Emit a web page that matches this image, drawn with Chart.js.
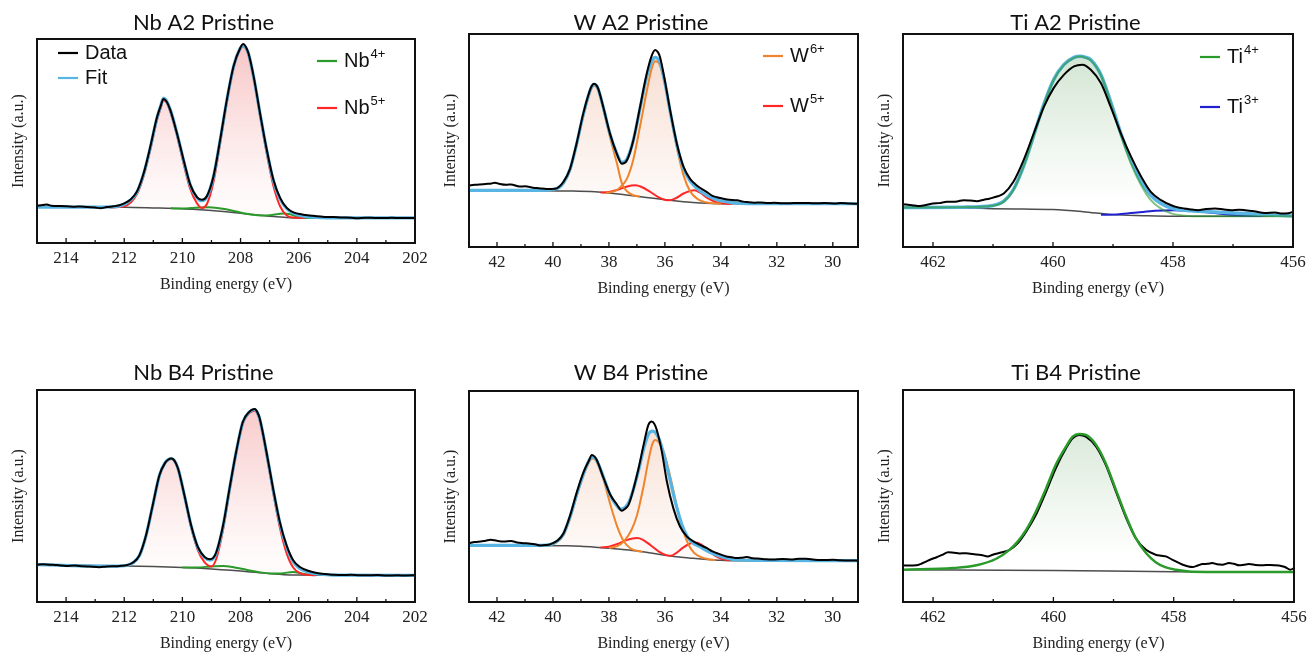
<!DOCTYPE html>
<html>
<head>
<meta charset="utf-8">
<script src="https://cdn.jsdelivr.net/npm/chart.js@4.4.0/dist/chart.umd.min.js"></script>
<style>
  body { margin: 0; background: #fff; width: 1311px; height: 653px; position: relative; overflow: hidden; }
  canvas { position: absolute; }
</style>
</head>
<body>
<script>
//1) DATA (binding energy eV, normalised intensity)//
const nbAxis = [202, 215];
const wAxis = [29.1, 43];
const tiAxis = [456, 462.5];

// Nb A2
const nbA2Data = [[215.0,0.183],[214.8,0.186],[214.66,0.189],[214.5,0.182],[214.2,0.181],[213.97,0.180],[213.7,0.178],[213.5,0.179],[213.28,0.176],[213.0,0.174],[212.82,0.170],[212.6,0.176],[212.37,0.180],[212.2,0.184],[212.02,0.193],[211.79,0.212],[211.56,0.253],[211.33,0.343],[211.1,0.474],[210.88,0.613],[210.75,0.67],[210.65,0.706],[210.55,0.695],[210.42,0.654],[210.19,0.539],[209.96,0.408],[209.73,0.286],[209.5,0.225],[209.33,0.212],[209.16,0.229],[208.93,0.327],[208.7,0.507],[208.47,0.703],[208.24,0.866],[208.01,0.956],[207.9,0.975],[207.82,0.962],[207.73,0.931],[207.55,0.817],[207.33,0.637],[207.1,0.458],[206.87,0.31],[206.64,0.221],[206.41,0.172],[206.18,0.150],[205.84,0.139],[205.6,0.135],[205.38,0.131],[205.1,0.128],[204.81,0.127],[204.5,0.125],[204.2,0.124],[204.0,0.121],[203.7,0.124],[203.4,0.123],[203.09,0.122],[202.8,0.124],[202.5,0.122],[202.2,0.123],[202.0,0.123]];
const nbA2Fit = [[215,0.176],[213,0.176],[212.3,0.178],[212.0,0.19],[211.79,0.21],[211.56,0.25],[211.33,0.34],[211.1,0.47],[210.88,0.61],[210.75,0.67],[210.65,0.71],[210.55,0.698],[210.42,0.655],[210.19,0.54],[209.96,0.405],[209.73,0.285],[209.5,0.222],[209.33,0.207],[209.16,0.225],[208.93,0.325],[208.7,0.505],[208.47,0.70],[208.24,0.865],[208.01,0.955],[207.9,0.968],[207.82,0.958],[207.73,0.93],[207.55,0.815],[207.33,0.635],[207.1,0.455],[206.87,0.305],[206.64,0.215],[206.41,0.168],[206.18,0.145],[205.84,0.132],[205.4,0.126],[204.5,0.123],[202,0.123]];
const nbA2Nb5 = [[212.5,0.174],[212.0,0.18],[211.56,0.24],[211.33,0.33],[211.1,0.46],[210.88,0.60],[210.75,0.66],[210.65,0.70],[210.55,0.69],[210.42,0.645],[210.19,0.53],[209.96,0.39],[209.73,0.265],[209.5,0.195],[209.33,0.172],[209.16,0.19],[208.93,0.30],[208.7,0.49],[208.47,0.69],[208.24,0.86],[208.01,0.95],[207.9,0.965],[207.82,0.955],[207.73,0.925],[207.55,0.81],[207.33,0.625],[207.1,0.44],[206.87,0.28],[206.64,0.18],[206.41,0.135],[206.18,0.125],[205.8,0.123]];
const nbA2Nb4 = [[210.4,0.170],[210.0,0.169],[209.7,0.171],[209.4,0.174],[209.1,0.175],[208.8,0.172],[208.5,0.165],[208.2,0.156],[207.9,0.146],[207.6,0.139],[207.3,0.135],[207.0,0.136],[206.7,0.142],[206.5,0.145],[206.3,0.141],[206.1,0.132],[205.8,0.124],[205.5,0.123]];
const nbA2Base = [[215,0.176],[212,0.175],[211,0.172],[210,0.168],[209.5,0.164],[209,0.159],[208.5,0.153],[208,0.146],[207.5,0.138],[207,0.131],[206.5,0.126],[206,0.123],[202,0.123]];

// W A2
const wA2Data = [[43.0,0.289],[42.8,0.292],[42.62,0.294],[42.4,0.296],[42.2,0.298],[42.08,0.302],[41.9,0.296],[41.66,0.292],[41.5,0.294],[41.19,0.284],[41.0,0.285],[40.71,0.278],[40.5,0.276],[40.23,0.272],[39.93,0.273],[39.78,0.283],[39.63,0.305],[39.39,0.367],[39.16,0.484],[38.92,0.625],[38.74,0.711],[38.62,0.755],[38.53,0.766],[38.45,0.76],[38.38,0.742],[38.2,0.656],[37.96,0.531],[37.72,0.438],[37.54,0.391],[37.36,0.406],[37.13,0.5],[36.89,0.656],[36.65,0.813],[36.47,0.898],[36.35,0.925],[36.25,0.915],[36.17,0.89],[35.99,0.773],[35.81,0.64],[35.57,0.484],[35.33,0.375],[35.1,0.32],[34.86,0.289],[34.5,0.258],[34.3,0.24],[34.14,0.234],[33.95,0.228],[33.78,0.223],[33.42,0.219],[33.2,0.213],[33.07,0.211],[32.8,0.208],[32.59,0.209],[32.3,0.206],[32.11,0.208],[31.8,0.205],[31.39,0.206],[31.0,0.207],[30.68,0.205],[30.3,0.206],[29.9,0.204],[29.72,0.206],[29.4,0.204],[29.1,0.203]];
const wA2Fit = [[43.0,0.266],[40.5,0.266],[40.0,0.27],[39.78,0.28],[39.63,0.30],[39.39,0.365],[39.16,0.48],[38.92,0.62],[38.74,0.708],[38.62,0.752],[38.53,0.764],[38.45,0.758],[38.38,0.74],[38.2,0.655],[37.96,0.53],[37.72,0.44],[37.54,0.398],[37.36,0.412],[37.13,0.5],[36.89,0.65],[36.65,0.80],[36.47,0.872],[36.35,0.89],[36.25,0.884],[36.17,0.865],[35.99,0.765],[35.81,0.635],[35.57,0.48],[35.33,0.368],[35.1,0.31],[34.86,0.275],[34.5,0.242],[34.14,0.222],[33.78,0.212],[33.4,0.206],[32.5,0.203],[29.1,0.203]];
const wA2W6a = [[40.2,0.266],[39.9,0.272],[39.63,0.298],[39.39,0.36],[39.16,0.478],[38.92,0.615],[38.74,0.70],[38.62,0.745],[38.53,0.757],[38.45,0.752],[38.38,0.735],[38.2,0.648],[37.96,0.515],[37.72,0.395],[37.54,0.30],[37.36,0.262],[37.13,0.243],[36.9,0.236]];
const wA2W6b = [[38.1,0.254],[37.8,0.262],[37.6,0.28],[37.36,0.32],[37.13,0.41],[36.89,0.565],[36.65,0.73],[36.47,0.838],[36.35,0.872],[36.25,0.868],[36.17,0.85],[35.99,0.762],[35.81,0.632],[35.57,0.465],[35.33,0.335],[35.1,0.262],[34.86,0.228],[34.6,0.212],[34.3,0.206],[34.0,0.203]];
const wA2W5 = [[38.3,0.256],[38.0,0.258],[37.7,0.268],[37.4,0.282],[37.2,0.289],[37.05,0.29],[36.85,0.283],[36.5,0.257],[36.2,0.232],[36.0,0.222],[35.85,0.219],[35.6,0.23],[35.35,0.25],[35.1,0.263],[34.95,0.266],[34.75,0.256],[34.5,0.232],[34.2,0.212],[33.9,0.204],[33.6,0.203]];
const wA2Base = [[43,0.266],[39.3,0.2625],[38.5,0.259],[38.0,0.254],[37.5,0.247],[37.0,0.238],[36.5,0.230],[36.0,0.222],[35.5,0.215],[35.0,0.209],[34.5,0.205],[34.0,0.203],[29.1,0.203]];

// Ti A2
const tiA2Data = [[462.5,0.201],[462.35,0.196],[462.22,0.192],[462.1,0.198],[462.0,0.204],[461.9,0.206],[461.77,0.212],[461.6,0.214],[461.49,0.22],[461.38,0.218],[461.27,0.215],[461.15,0.222],[461.05,0.228],[460.92,0.238],[460.82,0.251],[460.66,0.306],[460.49,0.408],[460.32,0.534],[460.15,0.659],[459.99,0.746],[459.82,0.808],[459.65,0.848],[459.51,0.856],[459.37,0.832],[459.2,0.769],[459.04,0.659],[458.87,0.534],[458.7,0.424],[458.53,0.33],[458.37,0.259],[458.2,0.22],[458.03,0.196],[457.92,0.186],[457.81,0.181],[457.7,0.176],[457.58,0.173],[457.45,0.178],[457.3,0.181],[457.15,0.176],[457.03,0.173],[456.9,0.175],[456.8,0.173],[456.65,0.168],[456.47,0.16],[456.3,0.162],[456.19,0.157],[456.08,0.158],[456.0,0.165]];
const tiA2Fit = [[462.5,0.185],[461.5,0.187],[461.0,0.195],[460.82,0.215],[460.66,0.27],[460.49,0.38],[460.32,0.525],[460.15,0.672],[459.99,0.785],[459.82,0.856],[459.65,0.89],[459.55,0.896],[459.45,0.89],[459.37,0.879],[459.2,0.808],[459.04,0.683],[458.87,0.534],[458.7,0.408],[458.53,0.306],[458.37,0.243],[458.2,0.204],[458.0,0.18],[457.7,0.17],[457.4,0.166],[457.0,0.16],[456.5,0.152],[456.0,0.146]];
const tiA2Ti4 = [[462.5,0.185],[461.5,0.187],[461.0,0.194],[460.82,0.213],[460.66,0.268],[460.49,0.378],[460.32,0.522],[460.15,0.67],[459.99,0.783],[459.82,0.854],[459.65,0.888],[459.55,0.894],[459.45,0.888],[459.37,0.876],[459.2,0.805],[459.04,0.678],[458.87,0.525],[458.7,0.39],[458.53,0.29],[458.37,0.22],[458.2,0.18],[458.03,0.158],[457.8,0.147],[457.5,0.144],[456,0.144]];
const tiA2Ti3 = [[459.2,0.151],[458.9,0.154],[458.6,0.162],[458.3,0.17],[458.0,0.173],[457.7,0.17],[457.4,0.162],[457.1,0.153],[456.8,0.147],[456.5,0.145]];
const tiA2Base = [[462.5,0.185],[461.5,0.183],[461.0,0.18],[460.5,0.178],[460.0,0.176],[459.5,0.166],[459.0,0.152],[458.5,0.147],[458.0,0.144],[456.0,0.144]];

// Nb B4
const nbB4Data = [[215.0,0.176],[214.8,0.178],[214.58,0.176],[214.3,0.174],[214.0,0.17],[213.7,0.172],[213.43,0.169],[213.2,0.167],[212.85,0.164],[212.6,0.168],[212.28,0.169],[212.1,0.171],[211.93,0.173],[211.7,0.186],[211.48,0.22],[211.25,0.315],[211.02,0.457],[210.79,0.598],[210.6,0.655],[210.48,0.672],[210.38,0.677],[210.28,0.668],[210.15,0.63],[209.93,0.504],[209.7,0.362],[209.47,0.26],[209.24,0.213],[209.06,0.202],[208.95,0.207],[208.83,0.236],[208.6,0.362],[208.38,0.535],[208.15,0.709],[207.92,0.85],[207.69,0.898],[207.6,0.907],[207.51,0.91],[207.42,0.895],[207.34,0.866],[207.11,0.709],[206.88,0.535],[206.65,0.378],[206.42,0.268],[206.19,0.197],[205.96,0.165],[205.62,0.145],[205.28,0.134],[205.0,0.131],[204.82,0.129],[204.5,0.127],[204.2,0.128],[203.9,0.126],[203.67,0.126],[203.3,0.127],[203.0,0.125],[202.6,0.126],[202.3,0.125],[202.0,0.126]];
const nbB4Fit = [[215,0.176],[212.3,0.169],[211.93,0.172],[211.7,0.185],[211.48,0.218],[211.25,0.313],[211.02,0.455],[210.79,0.597],[210.6,0.656],[210.48,0.672],[210.38,0.677],[210.28,0.668],[210.15,0.63],[209.93,0.503],[209.7,0.36],[209.47,0.258],[209.24,0.21],[209.06,0.198],[208.95,0.203],[208.83,0.232],[208.6,0.358],[208.38,0.532],[208.15,0.707],[207.92,0.848],[207.69,0.897],[207.6,0.905],[207.51,0.907],[207.42,0.893],[207.34,0.864],[207.11,0.707],[206.88,0.532],[206.65,0.374],[206.42,0.262],[206.19,0.19],[205.96,0.158],[205.62,0.139],[205.28,0.131],[204.8,0.127],[202,0.126]];
const nbB4Nb5 = [[212.3,0.169],[211.93,0.172],[211.7,0.184],[211.48,0.217],[211.25,0.312],[211.02,0.454],[210.79,0.595],[210.6,0.654],[210.48,0.67],[210.38,0.674],[210.28,0.665],[210.15,0.626],[209.93,0.498],[209.7,0.352],[209.47,0.245],[209.24,0.188],[209.0,0.168],[208.83,0.205],[208.6,0.342],[208.38,0.522],[208.15,0.702],[207.92,0.842],[207.69,0.892],[207.6,0.9],[207.51,0.902],[207.42,0.888],[207.34,0.858],[207.11,0.698],[206.88,0.518],[206.65,0.352],[206.42,0.232],[206.19,0.163],[205.96,0.136],[205.7,0.128],[205.4,0.126]];
const nbB4Nb4 = [[210.0,0.163],[209.5,0.163],[209.0,0.168],[208.6,0.17],[208.2,0.163],[207.8,0.152],[207.4,0.142],[207.0,0.135],[206.6,0.135],[206.2,0.142],[205.9,0.135],[205.6,0.127]];
const nbB4Base = [[215,0.176],[212,0.17],[211,0.167],[210,0.163],[209.5,0.16],[209,0.156],[208.5,0.151],[208,0.146],[207.5,0.14],[207,0.134],[206.5,0.129],[206,0.127],[205,0.126],[202,0.126]];

// W B4
const wB4Data = [[43.0,0.279],[42.8,0.284],[42.58,0.287],[42.4,0.29],[42.23,0.295],[42.0,0.29],[41.75,0.287],[41.5,0.289],[41.28,0.282],[41.05,0.279],[40.8,0.276],[40.6,0.272],[40.45,0.268],[40.25,0.27],[40.09,0.274],[39.85,0.29],[39.62,0.326],[39.38,0.413],[39.14,0.524],[38.9,0.618],[38.72,0.669],[38.61,0.697],[38.52,0.69],[38.43,0.672],[38.19,0.587],[37.95,0.508],[37.71,0.461],[37.54,0.432],[37.42,0.442],[37.3,0.46],[37.18,0.508],[36.94,0.634],[36.76,0.745],[36.59,0.839],[36.47,0.855],[36.38,0.845],[36.29,0.815],[36.11,0.713],[35.93,0.571],[35.7,0.445],[35.46,0.358],[35.22,0.311],[34.98,0.287],[34.75,0.271],[34.51,0.256],[34.3,0.24],[34.15,0.232],[33.95,0.222],[33.8,0.216],[33.6,0.212],[33.44,0.208],[33.25,0.21],[33.08,0.213],[32.85,0.207],[32.6,0.205],[32.4,0.203],[32.13,0.202],[31.8,0.204],[31.42,0.202],[31.2,0.205],[30.95,0.205],[30.65,0.2],[30.35,0.199],[30.0,0.2],[29.76,0.198],[29.45,0.197],[29.1,0.196]];
const wB4Fit = [[43.0,0.268],[40.4,0.268],[40.1,0.272],[39.85,0.288],[39.62,0.324],[39.38,0.408],[39.14,0.515],[38.9,0.61],[38.72,0.668],[38.61,0.688],[38.5,0.682],[38.43,0.67],[38.19,0.59],[37.95,0.505],[37.71,0.455],[37.6,0.44],[37.45,0.445],[37.3,0.47],[37.18,0.51],[36.94,0.625],[36.76,0.725],[36.59,0.795],[36.45,0.81],[36.35,0.805],[36.2,0.77],[36.0,0.68],[35.8,0.57],[35.6,0.46],[35.4,0.37],[35.2,0.31],[35.0,0.28],[34.75,0.262],[34.5,0.243],[34.2,0.225],[34.0,0.216],[33.7,0.205],[33.4,0.199],[32.5,0.197],[29.1,0.196]];
const wB4W6a = [[40.2,0.268],[39.9,0.28],[39.62,0.318],[39.38,0.4],[39.14,0.508],[38.9,0.605],[38.72,0.66],[38.6,0.68],[38.5,0.676],[38.43,0.662],[38.19,0.578],[37.95,0.462],[37.71,0.36],[37.48,0.29],[37.25,0.256],[37.0,0.243],[36.8,0.238]];
const wB4W6b = [[38.0,0.256],[37.7,0.265],[37.45,0.29],[37.2,0.34],[37.0,0.41],[36.76,0.55],[36.59,0.67],[36.45,0.748],[36.35,0.768],[36.25,0.762],[36.1,0.73],[35.93,0.66],[35.75,0.56],[35.55,0.44],[35.35,0.34],[35.15,0.27],[34.95,0.232],[34.7,0.212],[34.45,0.203],[34.2,0.199]];
const wB4W5 = [[38.3,0.258],[38.0,0.262],[37.7,0.275],[37.4,0.292],[37.15,0.301],[37.0,0.303],[36.8,0.296],[36.5,0.268],[36.2,0.238],[35.95,0.222],[35.8,0.219],[35.6,0.232],[35.35,0.258],[35.1,0.277],[34.9,0.282],[34.7,0.272],[34.45,0.245],[34.2,0.218],[33.95,0.203],[33.7,0.198]];
const wB4Base = [[43,0.268],[39.5,0.266],[39,0.264],[38.5,0.26],[38,0.255],[37.5,0.249],[37,0.242],[36.5,0.232],[36,0.222],[35.5,0.213],[35,0.207],[34.5,0.202],[34,0.198],[33.5,0.196],[29.1,0.196]];

// Ti B4
const tiB4Data = [[462.5,0.173],[462.4,0.172],[462.28,0.173],[462.2,0.18],[462.11,0.192],[462.0,0.205],[461.95,0.21],[461.85,0.222],[461.75,0.235],[461.65,0.232],[461.56,0.229],[461.45,0.23],[461.34,0.226],[461.2,0.222],[461.09,0.215],[461.02,0.222],[460.95,0.228],[460.85,0.235],[460.73,0.246],[460.59,0.278],[460.45,0.333],[460.29,0.411],[460.12,0.521],[459.96,0.631],[459.79,0.725],[459.68,0.772],[459.57,0.788],[459.46,0.78],[459.29,0.733],[459.13,0.647],[458.96,0.521],[458.79,0.396],[458.63,0.301],[458.46,0.246],[458.3,0.223],[458.2,0.218],[458.13,0.215],[458.02,0.199],[457.85,0.176],[457.69,0.165],[457.6,0.172],[457.52,0.179],[457.44,0.18],[457.36,0.184],[457.28,0.178],[457.19,0.176],[457.08,0.184],[457.0,0.18],[456.91,0.173],[456.83,0.176],[456.75,0.179],[456.64,0.175],[456.53,0.173],[456.4,0.175],[456.25,0.172],[456.15,0.165],[456.06,0.152],[456.0,0.16]];
const tiB4Ti4 = [[462.5,0.152],[461.67,0.16],[461.28,0.173],[460.95,0.204],[460.73,0.246],[460.59,0.286],[460.45,0.341],[460.29,0.427],[460.12,0.537],[459.96,0.647],[459.79,0.733],[459.68,0.78],[459.57,0.793],[459.46,0.788],[459.29,0.741],[459.13,0.655],[458.96,0.529],[458.79,0.403],[458.63,0.301],[458.46,0.231],[458.3,0.188],[458.13,0.163],[457.96,0.152],[457.75,0.144],[457.4,0.142],[456,0.141]];
const tiB4Base = [[462.5,0.152],[460,0.148],[458,0.143],[456,0.141]];

//2) COLOURS//
const cData = '#000000';
const cFit = '#58b4e2';
const cBase = '#4d4d4d';
const cRed = '#ff2626';
const cGreen = '#2a9a2a';
const cOrange = '#f0842c';
const cBlue = '#2020d0';

//3) HELPERS//
function fade(top, bottom) {
   return (context) => {
      const { ctx, chartArea, scales } = context.chart;
      if (!chartArea) return top;
      const g = ctx.createLinearGradient(0, chartArea.top, 0, scales.y.getPixelForValue(0.2));
      g.addColorStop(0, top);
      g.addColorStop(1, bottom);
      return g;
   };
}

function line(data, color, width, order, extra) {
   return Object.assign({
      data: data,
      borderColor: color,
      borderWidth: width,
      pointRadius: 0,
      fill: false,
      order: order,
      cubicInterpolationMode: 'monotone'
   }, extra || {});
}

// box frame, inward ticks and the small legends
const framePlugin = {
   id: 'frame',
   afterDatasetsDraw(chart, args, opts) {
      const { ctx, chartArea: a, scales: { x } } = chart;
      ctx.save();
      ctx.strokeStyle = '#111';
      ctx.lineWidth = 1.3;
      for (let v = Math.ceil(x.min); v <= x.max; v++) {
         const px = x.getPixelForValue(v);
         const len = v % 2 === 0 ? 5 : 3;
         ctx.beginPath();
         ctx.moveTo(px, a.bottom);
         ctx.lineTo(px, a.bottom - len);
         ctx.stroke();
      }
      ctx.lineWidth = 2;
      ctx.strokeRect(a.left, a.top, a.right - a.left, a.bottom - a.top);

      (opts.items || []).forEach(it => {
         const lx = a.left + it.dx, ly = a.top + it.dy;
         ctx.strokeStyle = it.color;
         ctx.lineWidth = 2.2;
         ctx.beginPath();
         ctx.moveTo(lx, ly);
         ctx.lineTo(lx + 20, ly);
         ctx.stroke();
         ctx.fillStyle = '#111';
         ctx.textBaseline = 'middle';
         ctx.textAlign = 'left';
         ctx.font = '20px "Liberation Sans", Arial, sans-serif';
         ctx.fillText(it.label, lx + 27, ly);
         if (it.sup) {
            const w = ctx.measureText(it.label).width;
            ctx.font = '13px "Liberation Sans", Arial, sans-serif';
            ctx.fillText(it.sup, lx + 28 + w, ly - 7);
         }
      });
      ctx.restore();
   }
};

//4) PANELS//
function buildPanel(box, titleText, titleY, range, datasets, items) {
   const canvas = document.createElement('canvas');
   const left = box.l - 45, top = box.t - 44;
   const width = box.r - box.l + 45 + 25;
   const height = box.b - box.t + 44 + 58;
   canvas.width = width;
   canvas.height = height;
   canvas.style.left = left + 'px';
   canvas.style.top = top + 'px';
   canvas.style.width = width + 'px';
   canvas.style.height = height + 'px';
   document.body.appendChild(canvas);

   const padTop = titleY - 11 - top;
   const serif = 'Liberation Serif, Times New Roman, serif';

   return new Chart(canvas.getContext('2d'), {
      type: 'line',
      data: { datasets: datasets },
      plugins: [framePlugin],
      options: {
         responsive: false,
         animation: false,
         events: [],
         layout: { padding: { left: 0, right: 25, top: 0, bottom: 0 } },
         plugins: {
            legend: { display: false },
            tooltip: { enabled: false },
            filler: { drawTime: 'beforeDatasetsDraw' },
            title: {
               display: true,
               text: titleText,
               color: '#111',
               font: { family: 'Lato, "Open Sans", sans-serif', size: 22, weight: 'normal', lineHeight: 1 },
               padding: { top: padTop, bottom: 44 - 22 - padTop }
            },
            frame: { items: items }
         },
         scales: {
            x: {
               type: 'linear',
               min: range[0],
               max: range[1],
               reverse: true,
               afterFit: (s) => { s.height = 58; },
               grid: { display: false, drawTicks: false },
               border: { display: false },
               ticks: {
                  stepSize: 2,
                  includeBounds: false,
                  padding: 5,
                  maxRotation: 0,
                  autoSkip: false,
                  color: '#222',
                  font: { family: serif, size: 17 }
               },
               title: {
                  display: true,
                  text: 'Binding energy (eV)',
                  color: '#222',
                  font: { family: serif, size: 16 },
                  padding: { top: 0, bottom: 7 }
               }
            },
            y: {
               min: 0,
               max: 1,
               afterFit: (s) => { s.width = 45; },
               grid: { display: false },
               border: { display: false },
               ticks: { display: false },
               title: {
                  display: true,
                  text: 'Intensity (a.u.)',
                  color: '#222',
                  font: { family: serif, size: 16 },
                  padding: { top: 17, bottom: 0 }
               }
            }
         }
      }
   });
}

const nbFill = fade('rgba(236,110,110,0.42)', 'rgba(245,150,150,0.04)');
const wFill = fade('rgba(226,140,100,0.34)', 'rgba(235,160,120,0.04)');
const tiFill = fade('rgba(95,160,95,0.32)', 'rgba(120,180,120,0.0)');

buildPanel({ l: 37, r: 415, t: 39, b: 243 }, 'Nb A2 Pristine', 23, nbAxis, [
   line(nbA2Base, cBase, 1.5, 4),
   line(nbA2Nb4, cGreen, 2, 3),
   line(nbA2Nb5, cRed, 2, 2, { fill: 0, backgroundColor: nbFill }),
   line(nbA2Fit, cFit, 3.2, 1),
   line(nbA2Data, cData, 2, 0)
], [
   { label: 'Data', color: cData, dx: 21, dy: 14 },
   { label: 'Fit', color: cFit, dx: 21, dy: 39 },
   { label: 'Nb', sup: '4+', color: cGreen, dx: 280, dy: 22 },
   { label: 'Nb', sup: '5+', color: cRed, dx: 280, dy: 69 }
]);

buildPanel({ l: 469, r: 858, t: 34, b: 247 }, 'W A2 Pristine', 23, wAxis, [
   line(wA2Base, cBase, 1.5, 4),
   line(wA2W5, cRed, 2, 3),
   line(wA2W6a, cOrange, 2, 2),
   line(wA2W6b, cOrange, 2, 2),
   line(wA2Fit, cFit, 3.2, 1, { fill: 0, backgroundColor: wFill }),
   line(wA2Data, cData, 2, 0)
], [
   { label: 'W', sup: '6+', color: cOrange, dx: 294, dy: 22 },
   { label: 'W', sup: '5+', color: cRed, dx: 294, dy: 72 }
]);

buildPanel({ l: 903, r: 1293, t: 34, b: 247 }, 'Ti A2 Pristine', 23, tiAxis, [
   line(tiA2Base, cBase, 1.5, 4),
   line(tiA2Ti3, cBlue, 2, 3),
   line(tiA2Fit, cFit, 3.5, 2),
   line(tiA2Ti4, 'rgba(42,154,42,0.6)', 2, 1, { fill: 0, backgroundColor: tiFill }),
   line(tiA2Data, cData, 2, 0)
], [
   { label: 'Ti', sup: '4+', color: cGreen, dx: 297, dy: 23 },
   { label: 'Ti', sup: '3+', color: cBlue, dx: 297, dy: 73 }
]);

buildPanel({ l: 37, r: 415, t: 390, b: 602 }, 'Nb B4 Pristine', 373, nbAxis, [
   line(nbB4Base, cBase, 1.5, 4),
   line(nbB4Nb4, cGreen, 2, 3),
   line(nbB4Nb5, cRed, 2, 2, { fill: 0, backgroundColor: nbFill }),
   line(nbB4Fit, cFit, 3.2, 1),
   line(nbB4Data, cData, 2, 0)
], []);

buildPanel({ l: 469, r: 858, t: 391, b: 602 }, 'W B4 Pristine', 373, wAxis, [
   line(wB4Base, cBase, 1.5, 4),
   line(wB4W5, cRed, 2, 3),
   line(wB4W6a, cOrange, 2, 2),
   line(wB4W6b, cOrange, 2, 2),
   line(wB4Fit, cFit, 3.2, 1, { fill: 0, backgroundColor: wFill }),
   line(wB4Data, cData, 2, 0)
], []);

buildPanel({ l: 903, r: 1294, t: 390, b: 602 }, 'Ti B4 Pristine', 373, tiAxis, [
   line(tiB4Base, cBase, 1.5, 3),
   line(tiB4Data, cData, 2, 1),
   line(tiB4Ti4, cGreen, 2.5, 0, { fill: 0, backgroundColor: tiFill })
], []);
</script>
</body>
</html>
